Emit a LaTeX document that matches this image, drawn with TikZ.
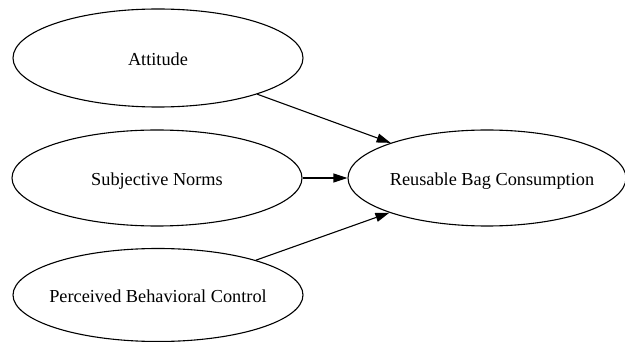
\documentclass[tikz,border=0pt]{standalone}
\usepackage{fontspec}
\setmainfont{Liberation Serif}
\usetikzlibrary{shapes.geometric,arrows.meta}
\begin{document}
\begin{tikzpicture}[x=1pt,y=-1pt,
  oval/.style={ellipse,draw,line width=1.1pt,inner sep=0pt},
  lbl/.style={inner sep=0pt,text height=18pt,text depth=2pt,font=\fontsize{18.3}{20}\selectfont},
  edge/.style={line width=1.1pt,-{Triangle[length=14pt,width=9pt]}}]
\useasboundingbox (0,0) rectangle (625,342);
\node[oval,minimum width=290pt,minimum height=98pt] (att) at (158,58) {};
\node[oval,minimum width=290pt,minimum height=96pt] (sn) at (157,178) {};
\node[oval,minimum width=290pt,minimum height=93pt] (pbc) at (158,295) {};
\node[oval,minimum width=278pt,minimum height=96pt] (rbc) at (487,178) {};
\node[lbl] (attl) at (att.center) {Attitude};
\node[lbl] (snl) at (sn.center) {Subjective Norms};
\node[lbl] (pbcl) at (pbc.center) {Perceived Behavioral Control};
\node[lbl,xshift=5pt] (rbcl) at (rbc.center) {Reusable Bag Consumption};
\draw[edge] (att) -- (rbc);
\draw[edge] (sn) -- (rbc);
\draw[edge] (pbc) -- (rbc);
\end{tikzpicture}
\end{document}
